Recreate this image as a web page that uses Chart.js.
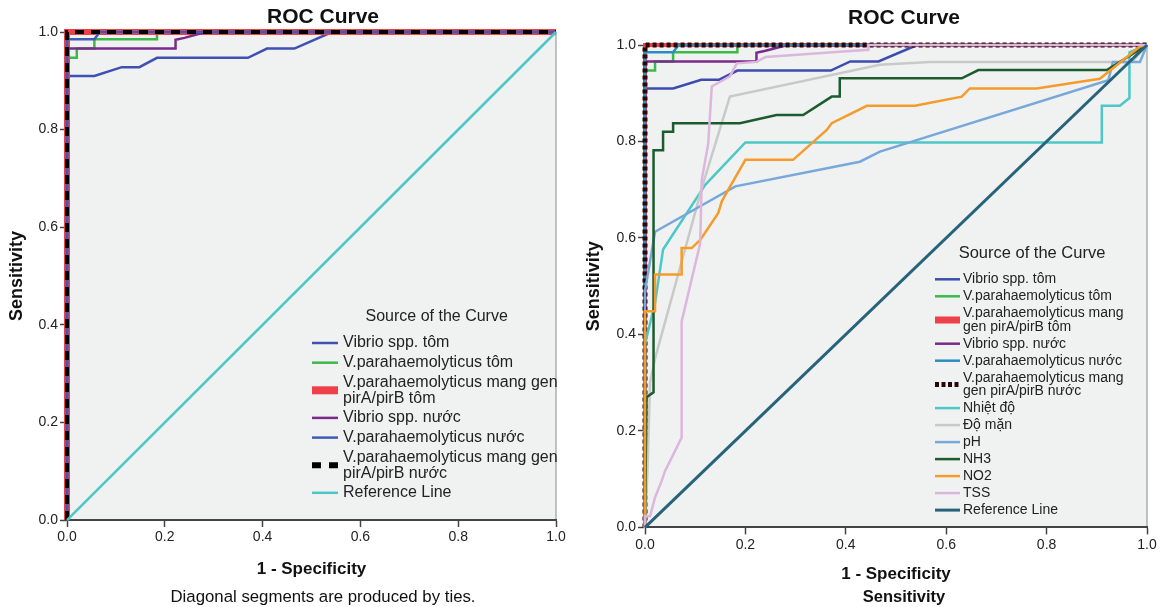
<!DOCTYPE html>
<html>
<head>
<meta charset="utf-8">
<script src="https://cdn.jsdelivr.net/npm/chart.js@4.4.1/dist/chart.umd.min.js"></script>
<style>
  html, body { margin: 0; padding: 0; background: #fff; overflow: hidden; width: 1162px; height: 607px; }
  canvas { position: absolute; top: 0; }
  #left { left: 0; }
  #right { left: 580px; }
</style>
</head>
<body>
<canvas id="left" width="646" height="607"></canvas>
<canvas id="right" width="648" height="607"></canvas>
<script>
// ── data: [1 - specificity, sensitivity] pairs ───────────────────────────
const TICKS = [0, 0.2, 0.4, 0.6, 0.8, 1.0];

const vibrioTom = [[0,0],[0,0.91],[0.056,0.91],[0.112,0.928],[0.148,0.928],[0.184,0.947],[0.37,0.947],[0.409,0.966],[0.465,0.966],[0.542,1],[1,1]];
const vpTom = [[0,0],[0,0.947],[0.02,0.947],[0.02,0.966],[0.056,0.966],[0.056,0.985],[0.184,0.985],[0.184,1],[1,1]];
const vpGenTom = [[0,0],[0,1],[1,1]];
const vibrioNuoc = [[0,0],[0,0.966],[0.222,0.966],[0.222,0.984],[0.24,0.988],[0.284,1],[1,1]];
const vpNuoc = [[0,0],[0,0.985],[0.056,0.985],[0.067,1],[1,1]];
const vpGenNuoc = [[0,0],[0,1],[1,1]];

const nhietDo = [[0,0],[0,0.38],[0.02,0.465],[0.036,0.576],[0.12,0.71],[0.2,0.798],[0.91,0.798],[0.91,0.874],[0.946,0.874],[0.965,0.89],[0.965,0.985],[1,1]];
const doMan = [[0,0],[0.005,0.12],[0.01,0.3],[0.02,0.35],[0.115,0.71],[0.169,0.893],[0.468,0.959],[0.568,0.965],[0.97,0.965],[1,1]];
const pH = [[0,0],[0,0.49],[0.02,0.613],[0.18,0.707],[0.428,0.758],[0.468,0.779],[0.923,0.927],[0.932,0.965],[0.986,0.965],[1,1]];
const nh3 = [[0,0],[0.003,0.27],[0.017,0.28],[0.017,0.782],[0.036,0.782],[0.036,0.82],[0.056,0.82],[0.056,0.838],[0.189,0.838],[0.262,0.855],[0.315,0.855],[0.372,0.893],[0.388,0.893],[0.388,0.931],[0.631,0.931],[0.664,0.948],[0.92,0.948],[1,1]];
const no2 = [[0,0],[0,0.448],[0.02,0.448],[0.02,0.524],[0.073,0.524],[0.073,0.579],[0.093,0.579],[0.11,0.596],[0.146,0.652],[0.153,0.676],[0.166,0.7],[0.2,0.762],[0.295,0.762],[0.362,0.824],[0.372,0.838],[0.442,0.874],[0.538,0.874],[0.631,0.893],[0.647,0.91],[0.78,0.91],[0.906,0.93],[0.986,0.997],[1,1]];
const tss = [[0,0],[0,0.023],[0.01,0.023],[0.02,0.062],[0.033,0.096],[0.04,0.117],[0.073,0.186],[0.073,0.427],[0.11,0.589],[0.113,0.72],[0.126,0.796],[0.133,0.914],[0.169,0.935],[0.183,0.962],[0.222,0.965],[0.24,0.975],[0.388,0.986],[0.445,0.99],[0.445,1],[1,1]];
const refLine = [[0,0],[1,1]];

const FONT = '"Liberation Sans", Arial, sans-serif';

// ── plot background + frame ──────────────────────────────────────────────
const plotFrame = {
  id: 'plotFrame',
  beforeDraw(chart, args, o) {
    const { ctx, chartArea: a } = chart;
    ctx.save();
    ctx.fillStyle = o.fill;
    ctx.fillRect(a.left, a.top, a.width, a.height);
    ctx.strokeStyle = o.stroke;
    ctx.lineWidth = o.width;
    ctx.strokeRect(a.left, a.top, a.width, a.height);
    ctx.restore();
  }
};

// ── "Source of the Curve" legend drawn inside the plot ───────────────────
const curveLegend = {
  id: 'curveLegend',
  afterDraw(chart, args, o) {
    const { ctx, chartArea: a } = chart;
    const x0 = a.left + o.left;
    let y = a.top + o.top;
    ctx.save();
    ctx.fillStyle = o.color;
    ctx.textBaseline = 'middle';
    ctx.textAlign = 'center';
    ctx.font = o.titleFont;
    ctx.fillText('Source of the Curve', a.left + o.titleX, y);
    y += o.titleGap;
    ctx.textAlign = 'left';
    ctx.font = o.font;
    chart.data.datasets.forEach((ds) => {
      const lines = [].concat(ds.label);
      const mid = y + (lines.length - 1) * o.lineGap / 2;
      ctx.beginPath();
      ctx.strokeStyle = ds.borderColor;
      ctx.lineWidth = ds.keyWidth || ds.borderWidth;
      ctx.setLineDash(ds.keyDash || []);
      ctx.moveTo(x0, mid);
      ctx.lineTo(x0 + o.swatch, mid);
      ctx.stroke();
      ctx.setLineDash([]);
      lines.forEach((t, i) => ctx.fillText(t, x0 + o.swatch + o.textGap, y + i * o.lineGap));
      y += o.step + (lines.length - 1) * o.lineGap;
    });
    ctx.restore();
  }
};

function series(label, pts, color, width, extra = {}) {
  return Object.assign({
    label,
    data: pts.map(([x, y]) => ({ x, y })),
    borderColor: color,
    borderWidth: width,
    showLine: true,
    pointRadius: 0,
    fill: false,
    tension: 0,
    clip: false,
    yAxisID: 'y',
  }, extra);
}

function axes(o) {
  const tickFont = { family: FONT, size: 14 };
  const common = {
    type: 'linear', min: 0, max: 1,
    afterBuildTicks: (s) => { s.ticks = TICKS.map((v) => ({ value: v })); },
    ticks: { color: '#222', font: tickFont, padding: 2, callback: (v) => v.toFixed(1) },
    grid: { display: true, drawOnChartArea: false, drawTicks: true, tickLength: 7, tickColor: '#444', tickWidth: 1.5 },
    border: { display: true, color: '#444', width: 2 },
  };
  return {
    x: Object.assign({}, common, {
      position: 'bottom',
      title: { display: true, text: '1 - Specificity', color: '#111', font: { family: FONT, size: 17, weight: 'bold' }, padding: { top: 0, bottom: o.xTitlePad } },
      afterFit: (s) => { s.height = o.xHeight; },
    }),
    y: Object.assign({}, common, {
      position: 'left',
      title: { display: true, text: 'Sensitivity', color: '#111', font: { family: FONT, size: 18, weight: 'bold' }, padding: { top: o.yTitlePad, bottom: 0 } },
      afterFit: (s) => { s.width = o.yWidth; },
    }),
    pad: {
      type: 'linear', position: 'right', display: true,
      ticks: { display: false }, grid: { display: false }, border: { display: false },
      afterFit: (s) => { s.width = o.padWidth; },
    },
  };
}

function makeChart(id, datasets, o) {
  datasets.forEach((d, i) => { d.order = datasets.length - i; });
  return new Chart(document.getElementById(id), {
    type: 'scatter',
    data: { datasets },
    options: {
      responsive: false,
      animation: false,
      layout: { padding: 0 },
      scales: axes(o),
      plugins: {
        legend: { display: false },
        tooltip: { enabled: false },
        title: { display: true, text: 'ROC Curve', color: '#111', font: { family: FONT, size: 21, weight: 'bold' }, padding: o.titlePad },
        subtitle: { display: true, position: 'bottom', text: o.footText, color: '#111', font: o.footFont, padding: { top: 0, bottom: 0 } },
        plotFrame: { fill: '#f0f2f2', stroke: '#8a8a8a', width: 1 },
        curveLegend: o.legend,
      },
    },
    plugins: [plotFrame, curveLegend],
  });
}

// ── left chart ───────────────────────────────────────────────────────────
makeChart('left', [
  series('Vibrio spp. tôm', vibrioTom, '#3f4fb3', 2.5),
  series('V.parahaemolyticus tôm', vpTom, '#3cb94a', 2.5),
  series(['V.parahaemolyticus mang gen', 'pirA/pirB tôm'], vpGenTom, '#ef3f48', 6, { keyWidth: 8 }),
  series('Vibrio spp. nước', vibrioNuoc, '#7a2a8c', 2.5),
  series('V.parahaemolyticus nước', vpNuoc, '#3f5cb5', 2.5),
  series(['V.parahaemolyticus mang gen', 'pirA/pirB nước'], vpGenNuoc, '#000000', 4, { borderDash: [9, 7], keyWidth: 6, keyDash: [9, 8] }),
  series('Reference Line', refLine, '#4cc6c6', 2.5),
], {
  titlePad: { top: 5, bottom: 1.8 },
  footText: 'Diagonal segments are produced by ties.',
  footFont: { family: FONT, size: 16.8 },
  xHeight: 66.8, xTitlePad: 7.6,
  yWidth: 67, yTitlePad: 6.2,
  padWidth: 90,
  legend: {
    left: 245, top: 285, titleX: 369.7, titleGap: 26, swatch: 26, textGap: 5,
    step: 19.7, lineGap: 15.8, color: '#222',
    titleFont: '16px ' + FONT, font: '16px ' + FONT,
  },
});

// ── right chart ──────────────────────────────────────────────────────────
makeChart('right', [
  series('Vibrio spp. tôm', vibrioTom, '#3b4cae', 2.5),
  series('V.parahaemolyticus tôm', vpTom, '#3cb94a', 2.5),
  series(['V.parahaemolyticus mang', 'gen pirA/pirB tôm'], vpGenTom, '#ef3f48', 4, { keyWidth: 7 }),
  series('Vibrio spp. nước', vibrioNuoc, '#7b2a8c', 2.5),
  series('V.parahaemolyticus nước', vpNuoc, '#2b8dbf', 2.5),
  series(['V.parahaemolyticus mang', 'gen pirA/pirB nước'], vpGenNuoc, '#2a0808', 5, { borderDash: [4, 3], keyWidth: 5, keyDash: [4, 2.5] }),
  series('Nhiệt độ', nhietDo, '#4ec8c6', 2.5),
  series('Độ mặn', doMan, '#c9c9c9', 2.5),
  series('pH', pH, '#78a8da', 2.5),
  series('NH3', nh3, '#1c5b2e', 2.5),
  series('NO2', no2, '#f59b2b', 2.5),
  series('TSS', tss, '#dcb6dc', 2.5),
  series('Reference Line', refLine, '#27637a', 3),
], {
  titlePad: { top: 5.7, bottom: 14.1 },
  footText: 'Sensitivity',
  footFont: { family: FONT, size: 16.5, weight: 'bold' },
  xHeight: 59.8, xTitlePad: 2.6,
  yWidth: 65, yTitlePad: 3.2,
  padWidth: 81,
  legend: {
    left: 290, top: 208, titleX: 387, titleGap: 26.3, swatch: 25, textGap: 3,
    step: 17, lineGap: 13.4, color: '#222',
    titleFont: '16.5px ' + FONT, font: '14px ' + FONT,
  },
});
</script>
</body>
</html>
